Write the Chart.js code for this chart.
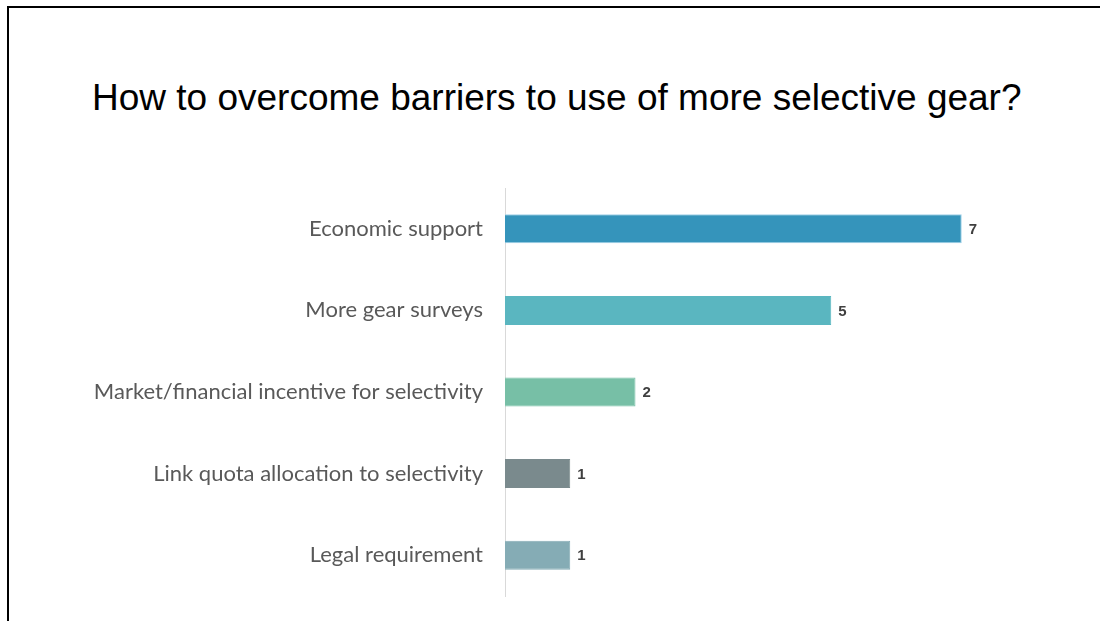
<!DOCTYPE html>
<html>
<head>
<meta charset="utf-8">
<title>Selective gear barriers</title>
<script src="https://cdn.jsdelivr.net/npm/chart.js@4.4.0/dist/chart.umd.min.js"></script>
<style>
  html, body { margin: 0; padding: 0; background: #fff; overflow: hidden; }
  #frame {
    position: absolute; left: 7px; top: 6px; width: 1200px; height: 700px;
    border-left: 2px solid #000; border-top: 2px solid #000;
  }
  #titulo {
    position: absolute; left: 92px; top: 79px; margin: 0;
    font: normal 37px/37px 'Liberation Sans', Arial, sans-serif;
    color: #000; white-space: nowrap;
  }
  #wrap { position: absolute; left: 0; top: 0; width: 1100px; height: 621px; }
</style>
</head>
<body>
<div id="frame"></div>
<h1 id="titulo">How to overcome barriers to use of more selective gear?</h1>
<div id="wrap"><canvas id="grafico" width="1100" height="621"></canvas></div>
<script>
const categorias = [
  "Economic support",
  "More gear surveys",
  "Market/financial incentive for selectivity",
  "Link quota allocation to selectivity",
  "Legal requirement"
];
const respostas = [7, 5, 2, 1, 1];
const cores = ["#3594bb", "#5ab6c0", "#77bfa6", "#7a8a8d", "#85acb5"];
const bordas = ["#9fd0e8", "#5ab6c0", "#77bfa6", "#7a8a8d", "#85acb5"];

// escreve o valor ao lado de cada barra
const rotulosValor = {
  id: "rotulosValor",
  afterDatasetsDraw(chart) {
    const ctx = chart.ctx;
    const meta = chart.getDatasetMeta(0);
    ctx.save();
    ctx.font = "bold 15px 'Liberation Sans', Arial, sans-serif";
    ctx.fillStyle = "#404040";
    ctx.textAlign = "left";
    ctx.textBaseline = "middle";
    meta.data.forEach((bar, i) => {
      ctx.fillText(String(chart.data.datasets[0].data[i]), bar.x + 7, bar.y + 1);
    });
    ctx.restore();
  }
};

new Chart(document.getElementById("grafico").getContext("2d"), {
  type: "bar",
  data: {
    labels: categorias,
    datasets: [{
      data: respostas,
      backgroundColor: cores,
      borderColor: bordas,
      borderWidth: 1,
      categoryPercentage: 1,
      barPercentage: 0.355
    }]
  },
  options: {
    indexAxis: "y",
    responsive: false,
    animation: false,
    layout: { padding: { top: 188, bottom: 25, right: 73, left: 0 } },
    plugins: {
      legend: { display: false },
      tooltip: { enabled: false },
      title: { display: false }
    },
    scales: {
      x: {
        display: false,
        min: 0,
        max: 8
      },
      y: {
        afterFit(scale) {
          // largura fixa da coluna de rótulos, sem folga extra em cima/baixo
          scale.width = 505;
          scale.paddingTop = 0;
          scale.paddingBottom = 0;
        },
        grid: { display: false, drawTicks: false },
        border: { display: true, color: "#d9d9d9", width: 1 },
        ticks: {
          color: "#595959",
          padding: 22,
          font: { family: "Lato, sans-serif", size: 22 }
        }
      }
    }
  },
  plugins: [rotulosValor]
});
</script>
</body>
</html>
